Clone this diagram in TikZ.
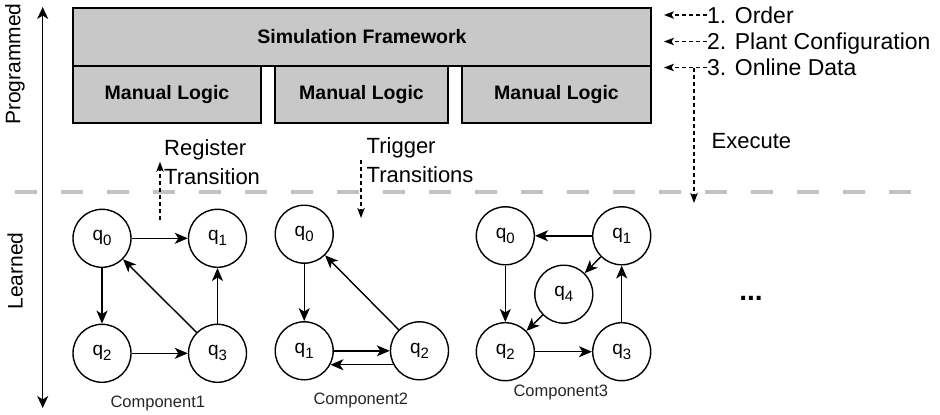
\documentclass[tikz,border=0pt]{standalone}
\usepackage{fontspec}
\setmainfont{Liberation Sans}
\usepackage{tikz}
\usetikzlibrary{arrows.meta}
\usetikzlibrary{positioning}
\usepackage{xcolor}

\definecolor{boxgray}{RGB}{200,200,200}
\definecolor{lanegray}{RGB}{195,195,195}
\newcommand{\qs}[1]{q\raisebox{-5pt}{\fontsize{15}{15}\selectfont#1}}

\begin{document}
\begin{tikzpicture}[x=1pt,y=-1pt,
  qnode/.style={circle,draw,line width=1.4pt,minimum size=58pt,inner sep=0pt,font=\fontsize{19}{22}\selectfont},
  trans/.style={-{Stealth[length=13pt,width=11pt,inset=3.5pt]},line width=1.4pt},
  logic/.style={draw,fill=boxgray,line width=1.4pt,minimum height=57pt,inner sep=0pt,font=\bfseries\fontsize{19.5}{22}\selectfont},
  hint/.style={-{Stealth[length=10pt,width=7.5pt,inset=2.5pt]},line width=1.1pt,dash pattern=on 4pt off 3pt},
  note/.style={inner sep=0pt,align=left,font=\fontsize{22}{29}\selectfont},
  input/.style={inner sep=0pt,anchor=west,text height=16.5pt,text depth=0pt,font=\fontsize{23}{26}\selectfont},
  comp/.style={font=\fontsize{16.5}{20}\selectfont,text=black!85}]
\useasboundingbox (0,0) rectangle (940,415);

% lane separator
\coordinate (sepl) at (15,192);
\coordinate (sepr) at (913,192);
\draw[lanegray,line width=3.5pt,dash pattern=on 22pt off 24pt] (sepl) -- (sepr);

% axis
\coordinate (axtop) at (42.7,7);
\coordinate (axbot) at (42.7,408);
\draw[{Stealth[length=12pt,width=11pt,inset=3.5pt]}-{Stealth[length=12pt,width=11pt,inset=3.5pt]},line width=1.4pt] (axtop) -- (axbot);
\node[rotate=90,font=\fontsize{21}{24}\selectfont] (prog) at (15,64) {Programmed};
\node[rotate=90,font=\fontsize{21}{24}\selectfont] (learn) at (15,271) {Learned};

% framework
\node[logic,minimum width=578pt,minimum height=58pt] (frame) at (362,37) {Simulation Framework};
\node[logic,minimum width=188pt] (ml1) at (167,94.5) {Manual Logic};
\node[logic,minimum width=173pt] (ml2) at (361.5,94.5) {Manual Logic};
\node[logic,minimum width=189pt] (ml3) at (556.5,94.5) {Manual Logic};

% inputs
\node[input] (order) at (707,15) {1. Order};
\node[input] (plant) at (707,41.5) {2. Plant Configuration};
\node[input] (online) at (707,67.5) {3. Online Data};
\coordinate (intip) at (664,0);
\foreach \n in {order,plant,online}
  \draw[hint] (\n.west) -- (\n.west -| intip);

\node[input,font=\fontsize{22}{26}\selectfont] (exec) at (711.5,140) {Execute};
\coordinate (execfoot) at (694,203);
\draw[hint] (execfoot |- online.west) -- (execfoot);

\node[note,anchor=north west] (reg) at (164,139) {Register\\Transition};
\coordinate (regfoot) at (160,220);
\draw[hint] (regfoot) -- (regfoot |- reg.west);

\node[note,anchor=north west] (trig) at (366.5,137.5) {Trigger\\Transitions};
\coordinate (trigfoot) at (361,218);
\draw[hint] (trigfoot |- trig.west) -- (trigfoot);

% component 1
\node[qnode] (c1q0) at (102,238.3) {\qs0};
\node[qnode] (c1q1) at (217.5,238.3) {\qs1};
\node[qnode] (c1q2) at (102,353.3) {\qs2};
\node[qnode] (c1q3) at (217.5,353.3) {\qs3};
\draw[trans] (c1q0) -- (c1q1);
\draw[trans] (c1q0) -- (c1q2);
\draw[trans] (c1q2) -- (c1q3);
\draw[trans] (c1q3) -- (c1q1);
\draw[trans] (c1q3) -- (c1q0);
\node[comp] (comp1) at (157.8,403) {Component1};

% component 2
\node[qnode] (c2q0) at (304.2,234.2) {\qs0};
\node[qnode] (c2q1) at (304.2,350.8) {\qs1};
\node[qnode] (c2q2) at (419.5,350.8) {\qs2};
\draw[trans] (c2q0) -- (c2q1);
\draw[trans] (c2q1) -- (c2q2);
\draw[trans] (c2q2.208) -- (c2q1.-28);
\draw[trans] (c2q2) -- (c2q0);
\node[comp] (comp2) at (360.8,400) {Component2};

% component 3
\node[qnode] (c3q0) at (505.3,235.8) {\qs0};
\node[qnode] (c3q1) at (621.7,235.8) {\qs1};
\node[qnode] (c3q4) at (563.8,294.2) {\qs4};
\node[qnode] (c3q2) at (505.3,351.7) {\qs2};
\node[qnode] (c3q3) at (621.7,351.7) {\qs3};
\draw[trans] (c3q1) -- (c3q0);
\draw[trans] (c3q0) -- (c3q2);
\draw[trans] (c3q2) -- (c3q3);
\draw[trans] (c3q3) -- (c3q1);
\draw[trans] (c3q1) -- (c3q4);
\draw[trans] (c3q4) -- (c3q2);
\node[comp] (comp3) at (560.8,392) {Component3};

\node[font=\bfseries\fontsize{28}{28}\selectfont] (more) at (751,298) {...};
\end{tikzpicture}
\end{document}
